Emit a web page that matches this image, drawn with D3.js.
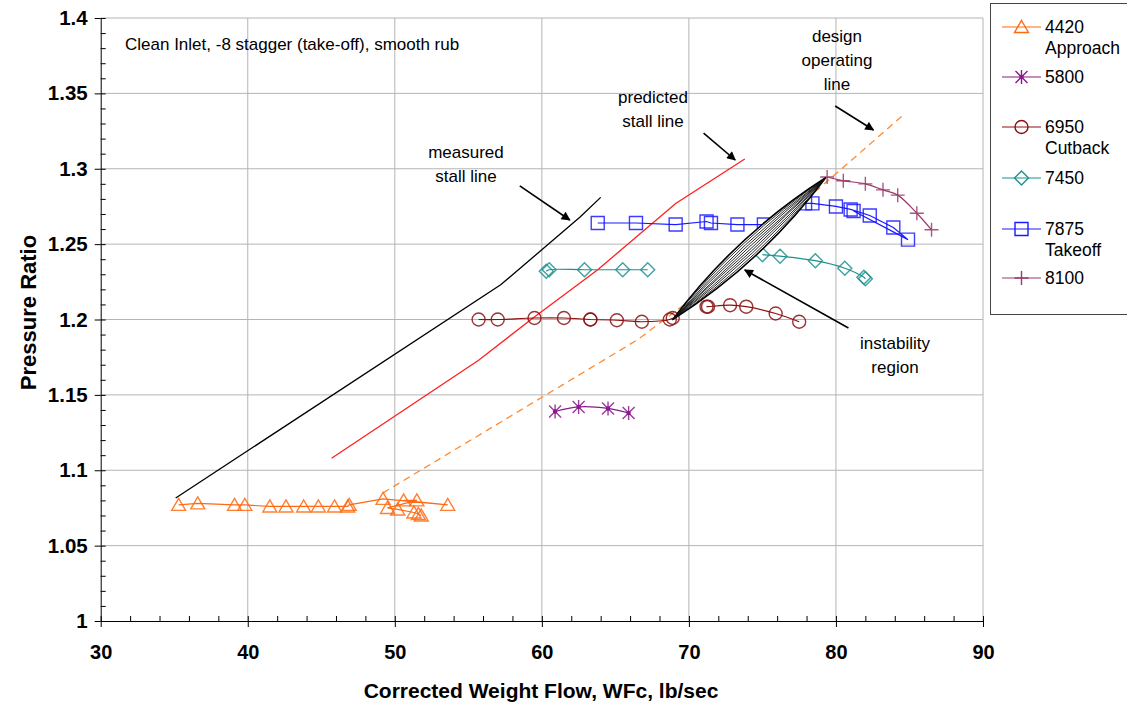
<!DOCTYPE html>
<html>
<head>
<meta charset="utf-8">
<script src="https://cdn.jsdelivr.net/npm/d3@7"></script>
<style>
  body { margin: 0; background: #fff; }
  text { font-family: "Liberation Sans", Arial, sans-serif; }
</style>
</head>
<body>
<svg id="chart" width="1127" height="707"></svg>
<script>
// Axis ticks
const xTicks = [30, 40, 50, 60, 70, 80, 90];
const yTicks = [1, 1.05, 1.1, 1.15, 1.2, 1.25, 1.3, 1.35, 1.4];

// Speed lines (null = break in the line)
const s4420x = [35.3, 36.6, 39.1, 39.8, 41.5, 42.6, 43.8, 44.8, 45.9, 46.8, 46.9, 49.2, 53.6, 50.6, 51.5, 49.5, 50.2, 51.3, 51.6, 51.8];
const s4420y = [1.077, 1.078, 1.077, 1.077, 1.076, 1.076, 1.076, 1.076, 1.076, 1.076, 1.077, 1.081, 1.077, 1.080, 1.080, 1.075, 1.074, 1.072, 1.071, 1.070];
const s5800x = [60.9, 62.5, 64.5, 65.9];
const s5800y = [1.139, 1.142, 1.141, 1.138];
const s6950x = [55.7, 57.0, 59.5, 61.5, 63.3, 63.3, 65.1, 66.8, 68.7, 68.9, null, 71.2, 71.3, 72.8, 73.9, 75.9, 77.5];
const s6950y = [1.200, 1.200, 1.201, 1.201, 1.200, 1.200, 1.1995, 1.1985, 1.200, 1.201, null, 1.2085, 1.2085, 1.2095, 1.2085, 1.204, 1.1985];
const s7450x = [60.3, 60.5, 62.9, 65.5, 67.2, null, 75.0, 76.2, 78.6, 80.6, 81.9, 82.0];
const s7450y = [1.232, 1.233, 1.233, 1.233, 1.233, null, 1.243, 1.242, 1.239, 1.234, 1.228, 1.227];
const s7875x = [63.8, 66.4, 69.1, 71.2, 71.5, 73.3, 75.1, null, 77.9, 78.4, 80.0, 81.0, 82.3, 83.9, 84.9, 81.2];
const s7875y = [1.264, 1.264, 1.263, 1.265, 1.264, 1.263, 1.263, null, 1.277, 1.277, 1.275, 1.273, 1.269, 1.261, 1.253, 1.272];
const s8100x = [79.4, 80.5, 82.0, 83.2, 84.2, 85.5, 86.5];
const s8100y = [1.2945, 1.292, 1.290, 1.286, 1.2825, 1.2705, 1.2595];

// Reference lines
const measuredX = [35.1, 57.2, 59.6, 62.6, 64.0];
const measuredY = [1.0816, 1.223, 1.243, 1.268, 1.281];
const predictedX = [45.7, 55.7, 59.4, 63.8, 69.1, 73.8];
const predictedY = [1.108, 1.173, 1.201, 1.233, 1.277, 1.3065];
const designX = [49.2, 66.5, 71.0, 76.9, 80.8, 84.5];
const designY = [1.085, 1.1865, 1.2195, 1.2705, 1.3035, 1.335];

// Instability region end points
const instabX = [68.9, 79.3];
const instabY = [1.200, 1.294];

const svg = d3.select("#chart");
const plot = { left: 100.7, right: 983, top: 18, bottom: 621 };

const x = d3.scaleLinear().domain([30, 90]).range([plot.left, plot.right]);
const y = d3.scaleLinear().domain([1, 1.4]).range([plot.bottom, plot.top]);

// Gridlines
svg.append("g").selectAll("line")
  .data(yTicks.slice(1))
  .enter().append("line")
  .attr("x1", plot.left).attr("x2", plot.right)
  .attr("y1", d => y(d)).attr("y2", d => y(d))
  .attr("stroke", "#b4b4b4").attr("stroke-width", 1);
svg.append("g").selectAll("line")
  .data(xTicks.slice(1))
  .enter().append("line")
  .attr("x1", d => x(d)).attr("x2", d => x(d))
  .attr("y1", plot.top).attr("y2", plot.bottom)
  .attr("stroke", "#b4b4b4").attr("stroke-width", 1);

// Axes
const yMinor = d3.range(100, 141).map(d => d / 100);
const xMinor = d3.range(30, 91, 2);

svg.append("g")
  .attr("transform", `translate(${plot.left},0)`)
  .call(d3.axisRight(y).tickValues(yMinor).tickSize(5).tickFormat(""))
  .call(g => g.select(".domain").remove());
const yAxis = svg.append("g")
  .attr("transform", `translate(${plot.left},0)`)
  .call(d3.axisLeft(y).tickValues(yTicks).tickSizeInner(6).tickSizeOuter(0)
    .tickFormat(d => String(+d.toFixed(2))));
yAxis.selectAll("text")
  .attr("x", -13)
  .style("font-size", "20.5px").style("font-weight", "bold")
  .style("font-family", "'Liberation Sans', Arial, sans-serif");

svg.append("g")
  .attr("transform", `translate(0,${plot.bottom})`)
  .call(d3.axisTop(x).tickValues(xMinor).tickSize(5).tickFormat(""))
  .call(g => g.select(".domain").remove());
const xAxis = svg.append("g")
  .attr("transform", `translate(0,${plot.bottom})`)
  .call(d3.axisBottom(x).tickValues(xTicks).tickSizeInner(6).tickSizeOuter(0));
xAxis.selectAll("text")
  .attr("y", 24)
  .style("font-size", "20px").style("font-weight", "bold")
  .style("font-family", "'Liberation Sans', Arial, sans-serif");
svg.selectAll(".domain, .tick line").attr("stroke", "#000");

// Axis titles
svg.append("text")
  .attr("x", 541).attr("y", 698)
  .attr("text-anchor", "middle")
  .style("font-size", "21px").style("font-weight", "bold")
  .text("Corrected Weight Flow, WFc, lb/sec");
svg.append("text")
  .attr("transform", `translate(36,${(plot.top + plot.bottom) / 2 - 7}) rotate(-90)`)
  .attr("text-anchor", "middle")
  .style("font-size", "22px").style("font-weight", "bold")
  .text("Pressure Ratio");

// Marker shapes
const shapes = {
  triangle: "M0,-6.5L7,5.5L-7,5.5Z",
  star: "M0,-7V7M-6,-6L6,6M-6,6L6,-6",
  circle: "M6.5,0A6.5,6.5 0 1,1 -6.5,0A6.5,6.5 0 1,1 6.5,0Z",
  diamond: "M0,-7L7,0L0,7L-7,0Z",
  square: "M-6.5,-6.5H6.5V6.5H-6.5Z",
  plus: "M-7,0H7M0,-7V7"
};

const series = [
  { name: "4420", sub: "Approach", xs: s4420x, ys: s4420y, color: "#ff6a10", shape: "triangle", curve: d3.curveLinear },
  { name: "5800", sub: null, xs: s5800x, ys: s5800y, color: "#8a1a8a", shape: "star", curve: d3.curveCatmullRom },
  { name: "6950", sub: "Cutback", xs: s6950x, ys: s6950y, color: "#8b1010", shape: "circle", curve: d3.curveCatmullRom },
  { name: "7450", sub: null, xs: s7450x, ys: s7450y, color: "#1f9090", shape: "diamond", curve: d3.curveCatmullRom },
  { name: "7875", sub: "Takeoff", xs: s7875x, ys: s7875y, color: "#1a1aff", shape: "square", curve: d3.curveLinear },
  { name: "8100", sub: null, xs: s8100x, ys: s8100y, color: "#9a3a6a", shape: "plus", curve: d3.curveCatmullRom }
];

// Reference lines
const refLine = d3.line().x(d => x(d[0])).y(d => y(d[1]));
svg.append("path")
  .attr("d", refLine(d3.zip(designX, designY)))
  .attr("fill", "none").attr("stroke", "#ff8a30").attr("stroke-width", 1.3)
  .attr("stroke-dasharray", "7,5");
svg.append("path")
  .attr("d", refLine(d3.zip(measuredX, measuredY)))
  .attr("fill", "none").attr("stroke", "#000").attr("stroke-width", 1.3);
svg.append("path")
  .attr("d", refLine(d3.zip(predictedX, predictedY)))
  .attr("fill", "none").attr("stroke", "#ff2020").attr("stroke-width", 1.3);

// Series lines and markers
series.forEach(s => {
  const pts = d3.zip(s.xs, s.ys);
  const line = d3.line()
    .defined(d => d[0] !== null)
    .x(d => x(d[0])).y(d => y(d[1]))
    .curve(s.curve);
  svg.append("path")
    .attr("d", line(pts))
    .attr("fill", "none").attr("stroke", s.color).attr("stroke-width", 1.2);
  const g = svg.append("g");
  const real = pts.filter(d => d[0] !== null);
  g.selectAll("path")
    .data(real)
    .enter().append("path")
    .attr("transform", d => `translate(${x(d[0])},${y(d[1])})`)
    .attr("d", shapes[s.shape])
    .attr("fill", "none").attr("stroke", s.color).attr("stroke-width", 1.4)
    .attr("stroke-opacity", 0.85);
  if (s.shape === "star") {
    g.selectAll("circle")
      .data(real)
      .enter().append("circle")
      .attr("cx", d => x(d[0])).attr("cy", d => y(d[1])).attr("r", 2.2)
      .attr("fill", s.color);
  }
});

// Instability region: striped lens
const ax = x(instabX[0]), ay = y(instabY[0]);
const bx = x(instabX[1]), by = y(instabY[1]);
const len = Math.hypot(bx - ax, by - ay);
const nx = -(by - ay) / len, ny = (bx - ax) / len;
const mx = (ax + bx) / 2, my = (ay + by) / 2;
const bulge = 19;
svg.append("path")
  .attr("d", `M${ax},${ay}Q${mx + nx * bulge},${my + ny * bulge} ${bx},${by}Q${mx - nx * bulge},${my - ny * bulge} ${ax},${ay}Z`)
  .attr("fill", "#fff").attr("stroke", "#000").attr("stroke-width", 1.6);
[-0.78, -0.56, -0.34, -0.12, 0.12, 0.34, 0.56, 0.78].forEach(k => {
  svg.append("path")
    .attr("d", `M${ax},${ay}Q${mx + nx * bulge * k},${my + ny * bulge * k} ${bx},${by}`)
    .attr("fill", "none").attr("stroke", "#111").attr("stroke-width", 0.9);
});

// Arrows
svg.append("defs").append("marker")
  .attr("id", "arrow")
  .attr("viewBox", "0 0 10 10")
  .attr("refX", 9).attr("refY", 5)
  .attr("markerWidth", 11).attr("markerHeight", 9)
  .attr("markerUnits", "userSpaceOnUse")
  .attr("orient", "auto")
  .append("path").attr("d", "M0,0L10,5L0,10Z").attr("fill", "#000");

const arrows = [
  [[58.5, 1.2886], [61.9, 1.266]],
  [[71.0, 1.3237], [73.15, 1.3058]],
  [[79.95, 1.3416], [82.55, 1.3257]],
  [[80.85, 1.1944], [73.8, 1.2328]]
];
arrows.forEach(a => {
  svg.append("line")
    .attr("x1", x(a[0][0])).attr("y1", y(a[0][1]))
    .attr("x2", x(a[1][0])).attr("y2", y(a[1][1]))
    .attr("stroke", "#000").attr("stroke-width", 1.6)
    .attr("marker-end", "url(#arrow)");
});

// Annotations
const notes = [
  { x: 125, y: 50, lines: ["Clean Inlet, -8 stagger (take-off), smooth rub"], anchor: "start" },
  { x: 466, y: 158, lines: ["measured", "stall line"], anchor: "middle" },
  { x: 653, y: 103, lines: ["predicted", "stall line"], anchor: "middle" },
  { x: 837, y: 42, lines: ["design", "operating", "line"], anchor: "middle" },
  { x: 895, y: 349, lines: ["instability", "region"], anchor: "middle" }
];
notes.forEach(n => {
  n.lines.forEach((t, i) => {
    svg.append("text")
      .attr("x", n.x).attr("y", n.y + i * 24)
      .attr("text-anchor", n.anchor)
      .style("font-size", "17px")
      .text(t);
  });
});

// Legend
const legend = svg.append("g");
legend.append("rect")
  .attr("x", 990.5).attr("y", 3.5).attr("width", 150).attr("height", 311)
  .attr("fill", "#fff").attr("stroke", "#444").attr("stroke-width", 1);
const legendY = [27, 77, 127, 178, 229, 278];
series.forEach((s, i) => {
  const ly = legendY[i];
  legend.append("line")
    .attr("x1", 1002).attr("x2", 1041).attr("y1", ly).attr("y2", ly)
    .attr("stroke", s.color).attr("stroke-width", 1.2);
  legend.append("path")
    .attr("transform", `translate(1021.5,${ly})`)
    .attr("d", shapes[s.shape])
    .attr("fill", "none").attr("stroke", s.color).attr("stroke-width", 1.4);
  if (s.shape === "star") {
    legend.append("circle").attr("cx", 1021.5).attr("cy", ly).attr("r", 2.2).attr("fill", s.color);
  }
  legend.append("text")
    .attr("x", 1045).attr("y", ly + 6)
    .style("font-size", "17.5px")
    .text(s.name);
  if (s.sub) {
    legend.append("text")
      .attr("x", 1045).attr("y", ly + 27)
      .style("font-size", "17.5px")
      .text(s.sub);
  }
});
</script>
</body>
</html>
